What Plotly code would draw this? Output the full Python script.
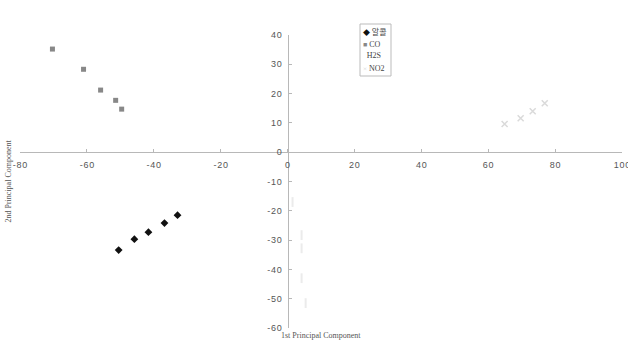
import plotly.graph_objects as go

# Data
alcohol_x = [-50.5, -45.8, -41.6, -36.8, -32.9]
alcohol_y = [-33.4, -29.7, -27.3, -24.2, -21.5]
co_x = [-70.3, -61.0, -55.9, -51.4, -49.6]
co_y = [35.2, 28.3, 21.2, 17.7, 14.7]
h2s_x = [1.5, 4.2, 4.2, 4.2, 5.4]
h2s_y = [-17.0, -28.3, -32.8, -43.0, -51.5]
no2_x = [64.9, 69.7, 73.3, 76.9]
no2_y = [9.6, 11.6, 14.0, 16.7]

series_names = ["알콜", "CO", "H2S", "NO2"]
x_ticks = [-80, -60, -40, -20, 0, 20, 40, 60, 80, 100]
y_ticks = [-60, -50, -40, -30, -20, -10, 0, 10, 20, 30, 40]
x_title = "1st Principal Component"
y_title = "2nd Principal Component"

W, H = 628, 341
ML, MR, MT, MB = 20, 6, 35, 13
PW, PH = W - ML - MR, H - MT - MB

def px(xp):
    return (xp - ML) / PW

def py(yp):
    return (H - MB - yp) / PH

def spaced(v):
    return "\u200a".join(str(v))

fig = go.Figure()
fig.add_trace(go.Scatter(x=alcohol_x, y=alcohol_y, mode="markers", name=series_names[0],
                         marker=dict(symbol="diamond", size=6, color="#111111")))
fig.add_trace(go.Scatter(x=co_x, y=co_y, mode="markers", name=series_names[1],
                         marker=dict(symbol="square", size=5, color="#888888")))
fig.add_trace(go.Scatter(x=h2s_x, y=h2s_y, mode="markers", name=series_names[2],
                         marker=dict(symbol="line-ns", size=7, color="#ebebeb",
                                     line=dict(color="#ebebeb", width=2))))
fig.add_trace(go.Scatter(x=no2_x, y=no2_y, mode="markers", name=series_names[3],
                         marker=dict(symbol="x-thin", size=6, color="#dadada",
                                     line=dict(color="#dadada", width=1.5))))

axis_common = dict(showgrid=False, zeroline=False, showline=True, linecolor="#b8b8b8",
                   linewidth=1, ticks="inside", ticklen=3, tickcolor="#b8b8b8",
                   tickfont=dict(family="Liberation Sans", size=9, color="#555555"),
                   anchor="free", ticklabeloverflow="allow", ticklabelstandoff=4,
                   automargin=False)

fig.update_layout(
    width=W, height=H,
    margin=dict(l=ML, r=MR, t=MT, b=MB, autoexpand=False),
    paper_bgcolor="white", plot_bgcolor="white",
    showlegend=False,
    xaxis=dict(range=[-80, 100], tickvals=x_ticks, ticktext=[spaced(v) for v in x_ticks],
               position=0.6, **axis_common),
    yaxis=dict(range=[-60, 40], tickvals=y_ticks, ticktext=[spaced(v) for v in y_ticks],
               position=80 / 180, **axis_common),
)

# axis titles
fig.add_annotation(text=x_title, xref="paper", yref="paper", x=0.5, y=py(335.5),
                   yanchor="middle", showarrow=False,
                   font=dict(family="Liberation Serif", size=8, color="#555555"))
fig.add_annotation(text=y_title, xref="paper", yref="paper", x=px(8), y=0.5, textangle=-90,
                   xanchor="center", showarrow=False,
                   font=dict(family="Liberation Serif", size=8, color="#555555"))

# legend box
fig.add_shape(type="rect", xref="paper", yref="paper", x0=px(360), x1=px(391),
              y0=py(76), y1=py(24), line=dict(color="#bbbbbb", width=1), fillcolor="white")
legend_symbols = ["◆", "■", " ", "×"]
legend_colors = ["#111111", "#888888", "#ffffff", "#d0d0d0"]
legend_fonts = ["Noto Sans CJK KR", "Liberation Serif", "Liberation Serif", "Liberation Serif"]
legend_y = [31, 44, 56, 69]
for name, sym, col, fam, ly in zip(series_names, legend_symbols, legend_colors, legend_fonts, legend_y):
    fig.add_annotation(text=f"<span style='color:{col};font-size:7px'>{sym}</span> {name}",
                       xref="paper", yref="paper", x=px(361), y=py(ly),
                       xanchor="left", yanchor="middle", showarrow=False,
                       font=dict(family=fam, size=8, color="#444444"))

fig.write_html("out.html")
